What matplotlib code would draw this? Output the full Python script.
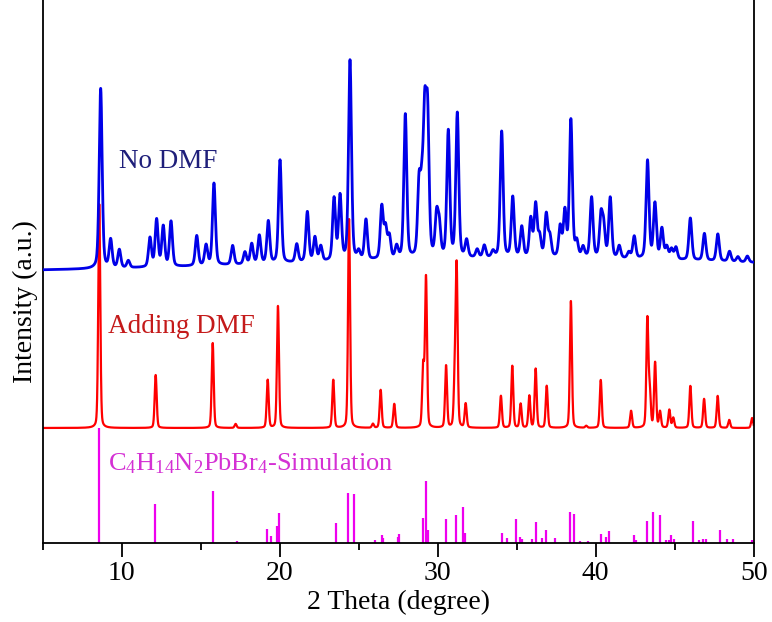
import numpy as np
import matplotlib
matplotlib.use("Agg")
import matplotlib.pyplot as plt

plt.rcParams['font.family'] = ['Liberation Serif', 'DejaVu Serif']
plt.rcParams['mathtext.fontset'] = 'custom'
plt.rcParams['mathtext.rm'] = 'Liberation Serif'
plt.rcParams['mathtext.it'] = 'Liberation Serif:italic'

# --- peak tables (2theta, height) ---
# No DMF sample
blue_pos = [8.67, 9.30, 9.85, 10.42, 11.79, 12.21, 12.63, 13.12, 14.75, 15.34,
            15.84, 17.02, 17.80, 18.23, 18.71, 19.28, 20.02, 21.08, 21.75, 22.23,
            22.60, 23.44, 23.82, 24.45, 25.00, 25.46, 26.46, 26.70, 26.94, 27.40,
            27.95, 28.82, 29.00, 29.18, 29.36, 29.93, 30.10, 30.67, 31.24, 31.83,
            32.50, 32.95, 33.50, 34.05, 34.75, 35.32, 35.89, 36.20, 36.45, 36.87,
            37.10, 37.75, 38.05, 38.43, 38.80, 39.20, 39.74, 40.33, 40.50, 40.92,
            41.49, 42.10, 42.44, 43.28, 43.75, 44.19, 44.50, 44.80, 45.08, 45.99,
            46.88, 47.73, 48.47, 49.00, 49.60]
blue_int = [180, 28, 18, 7, 29, 47, 40, 45, 30, 20,
            82, 19, 12, 20, 28, 42, 103, 18, 50, 24,
            15, 62, 64, 200, 8, 40, 52, 30, 22, 12,
            144, 70, 55, 130, 135, 40, 30, 126, 144, 17,
            8, 12, 6, 126, 60, 30, 38, 52, 20, 42,
            20, 30, 45, 137, 15, 10, 60, 40, 30, 60,
            12, 6, 22, 98, 55, 30, 12, 10, 12, 42,
            27, 27, 10, 5, 6]
blue_hump = (36.0, 14.0, 16.0)  # centre, height, sigma of amorphous background

# Adding DMF sample
red_pos = [8.58, 12.15, 15.76, 17.21, 19.24, 19.89, 23.39, 24.39, 25.90, 26.39,
           27.25, 29.08, 29.26, 30.53, 31.08, 31.20, 31.77, 34.00, 34.72, 35.25,
           35.80, 36.20, 36.90, 38.43, 39.40, 40.32, 42.24, 43.27, 43.42, 43.76,
           44.07, 44.66, 44.91, 45.99, 46.86, 47.72, 48.45, 49.90]
red_int = [224, 53, 85, 4, 48, 122, 48, 209, 4, 38,
           24, 60, 150, 62, 45, 158, 24, 32, 62, 24,
           32, 59, 42, 127, 2, 48, 17, 108, 35, 65,
           16, 18, 10, 42, 29, 32, 8, 10]

# C4H14N2PbBr4 simulated stick pattern
sim_pos = [8.58, 12.11, 15.76, 17.28, 19.22, 19.43, 19.85, 19.97, 23.54, 24.30,
           24.68, 26.03, 26.46, 26.56, 27.50, 27.55, 29.09, 29.24, 29.40, 30.53,
           31.16, 31.62, 31.73, 34.09, 34.41, 34.94, 35.21, 35.36, 35.95, 36.20,
           36.58, 36.85, 37.42, 38.37, 38.65, 39.01, 39.53, 40.32, 40.63, 40.82,
           42.44, 42.57, 43.25, 43.61, 44.09, 44.43, 44.65, 44.79, 44.96, 46.17,
           46.53, 46.82, 47.00, 47.85, 48.31, 48.69, 49.87]
sim_int = [115, 39, 52, 2, 14, 7, 17, 30, 20, 50,
           49, 3, 8, 5, 6, 9, 25, 62, 13, 24,
           28, 36, 10, 10, 5, 24, 6, 4, 4, 21,
           5, 13, 5, 31, 29, 2, 2, 9, 6, 12,
           8, 3, 22, 31, 28, 3, 3, 8, 4, 22,
           3, 4, 4, 13, 4, 4, 3]

blue_offset = 271
red_offset = 115


def pattern(x, pos, amp, fwhm, eta=0.35):
    """Pseudo-Voigt profile summed over a peak table."""
    y = np.zeros_like(x)
    hw = fwhm / 2.0
    sig = fwhm / 2.3548
    for c, a in zip(pos, amp):
        lor = 1.0 / (1.0 + ((x - c) / hw) ** 2)
        gau = np.exp(-0.5 * ((x - c) / sig) ** 2)
        y += a * (eta * lor + (1 - eta) * gau)
    return y


tt = np.linspace(5, 50, 6001)
hc, hh, hs = blue_hump
y_blue = blue_offset + pattern(tt, blue_pos, blue_int, 0.22) + hh * np.exp(-0.5 * ((tt - hc) / hs) ** 2)
y_red = red_offset + pattern(tt, red_pos, red_int, 0.15, eta=0.25)

fig = plt.figure(figsize=(7.72, 6.22), dpi=100)
ax = fig.add_axes([42.7 / 772, 79 / 622, 711 / 772, 543 / 622])

ax.vlines(sim_pos, 0, sim_int, color='#ee00ee', lw=1.6, zorder=1)
ax.plot(tt, y_red, color='#ff0000', lw=1.6, zorder=2)
ax.plot(tt, y_blue, color='#0000e8', lw=2.0, zorder=3)

ax.text(9.84, 375, 'No DMF', color='#1f1f7a', fontsize=19.5, va='baseline')
ax.text(9.15, 210, 'Adding DMF', color='#c41a1a', fontsize=19.5, va='baseline')
ax.text(9.11, 73, r'$\mathregular{C_4H_{14}N_2PbBr_4}$-Simulation', color='#d430d4',
        fontsize=19, va='baseline')

ax.set_xlim(5, 50)
ax.set_ylim(0, 543)
ax.set_xticks([10, 20, 30, 40, 50])
ax.set_xticks([5, 15, 25, 35, 45], minor=True)
ax.set_yticks([])
ax.tick_params(axis='x', which='major', direction='out', length=10, width=1.3,
               labelsize=20, pad=3)
ax.tick_params(axis='x', which='minor', direction='out', length=5, width=1.3)
ax.spines['top'].set_visible(False)
for s in ['left', 'right', 'bottom']:
    ax.spines[s].set_linewidth(1.3)

ax.set_xlabel('2 Theta (degree)', fontsize=20, labelpad=3)
ax.set_ylabel('Intensity (a.u.)', fontsize=20)
ax.yaxis.set_label_coords(-0.006, 0.445)

fig.savefig('out.png', dpi=100)
